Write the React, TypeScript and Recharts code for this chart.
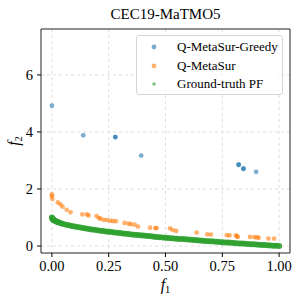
import React from "react";
import { ScatterChart, Scatter, XAxis, YAxis, CartesianGrid, ReferenceArea } from "recharts";

const xTicks = [0, 0.25, 0.5, 0.75, 1];
const yTicks = [0, 2, 4, 6];

const greedyX = [0.0, 0.138, 0.279, 0.279, 0.393, 0.822, 0.822, 0.843, 0.843, 0.899];
const greedyY = [4.92, 3.88, 3.82, 3.82, 3.17, 2.85, 2.85, 2.71, 2.71, 2.6];

const metaX = [0.0, 0.0, 0.002, 0.026, 0.038, 0.047, 0.065, 0.082, 0.134, 0.154, 0.161, 0.197, 0.207, 0.214, 0.228, 0.242, 0.257, 0.269, 0.282, 0.32, 0.338, 0.348, 0.364, 0.379, 0.432, 0.455, 0.461, 0.52, 0.532, 0.547, 0.637, 0.684, 0.7, 0.77, 0.782, 0.81, 0.815, 0.818, 0.872, 0.891, 0.902, 0.91, 0.953, 0.978];
const metaY = [1.81, 1.75, 1.65, 1.53, 1.46, 1.38, 1.27, 1.18, 1.11, 1.11, 1.07, 1.05, 0.98, 0.96, 0.92, 0.91, 0.89, 0.87, 0.87, 0.81, 0.78, 0.77, 0.75, 0.68, 0.64, 0.63, 0.63, 0.62, 0.56, 0.53, 0.47, 0.41, 0.4, 0.38, 0.37, 0.37, 0.34, 0.32, 0.32, 0.31, 0.3, 0.29, 0.26, 0.26];

const pfX = [0, 0.0025, 0.005, 0.0075, 0.01, 0.015, 0.02, 0.025, 0.03, 0.04, 0.05, 0.0625, 0.075, 0.0875, 0.1, 0.1125, 0.125, 0.1375, 0.15, 0.1625, 0.175, 0.1875, 0.2, 0.2125, 0.225, 0.2375, 0.25, 0.2625, 0.275, 0.2875, 0.3, 0.3125, 0.325, 0.3375, 0.35, 0.3625, 0.375, 0.3875, 0.4, 0.4125, 0.425, 0.4375, 0.45, 0.4625, 0.475, 0.4875, 0.5, 0.5125, 0.525, 0.5375, 0.55, 0.5625, 0.575, 0.5875, 0.6, 0.6125, 0.625, 0.6375, 0.65, 0.6625, 0.675, 0.6875, 0.7, 0.7125, 0.725, 0.7375, 0.75, 0.7625, 0.775, 0.7875, 0.8, 0.8125, 0.825, 0.8375, 0.85, 0.8625, 0.875, 0.8875, 0.9, 0.9125, 0.925, 0.9375, 0.95, 0.9625, 0.975, 0.9875, 1.0];
const pfY = [1.0, 0.95, 0.929, 0.913, 0.9, 0.878, 0.859, 0.842, 0.827, 0.8, 0.776, 0.75, 0.726, 0.704, 0.684, 0.665, 0.646, 0.629, 0.613, 0.597, 0.582, 0.567, 0.553, 0.539, 0.526, 0.513, 0.5, 0.488, 0.476, 0.464, 0.452, 0.441, 0.43, 0.419, 0.408, 0.398, 0.388, 0.378, 0.368, 0.358, 0.348, 0.339, 0.329, 0.32, 0.311, 0.302, 0.293, 0.284, 0.275, 0.267, 0.258, 0.25, 0.242, 0.234, 0.225, 0.217, 0.209, 0.202, 0.194, 0.186, 0.178, 0.171, 0.163, 0.156, 0.149, 0.141, 0.134, 0.127, 0.12, 0.113, 0.106, 0.099, 0.092, 0.085, 0.078, 0.071, 0.065, 0.058, 0.051, 0.045, 0.038, 0.032, 0.025, 0.019, 0.013, 0.006, 0.0];

const seriesNames = ["Q-MetaSur-Greedy", "Q-MetaSur", "Ground-truth PF"];
const seriesColors = ["#1f77b4", "#ff7f0e", "#2ca02c"];

const zip = (xs: number[], ys: number[]) => xs.map((x, i) => ({ x, y: ys[i] }));
const greedyData = zip(greedyX, greedyY);
const metaData = zip(metaX, metaY);
const pfData = zip(pfX, pfY);

const X_DOMAIN: [number, number] = [-0.048, 1.048];
const Y_DOMAIN: [number, number] = [-0.245, 7.61];

const FONT = "'Liberation Serif', 'Times New Roman', serif";

const dot = (color: string, r: number, op: number) => (props: any) =>
  <circle cx={props.cx} cy={props.cy} r={r} fill={color} fillOpacity={op} />;

export default function App() {
  return (
    <div style={{ position: "absolute", left: 0, top: 0, width: 300, height: 301, background: "#fff", fontFamily: FONT }}>
      <ScatterChart width={300} height={301} margin={{ top: 29, right: 10, left: 0, bottom: 0 }}>
        <CartesianGrid strokeDasharray="3 3" stroke="#dedede" horizontalValues={yTicks} verticalValues={xTicks} />
        <XAxis
          type="number"
          dataKey="x"
          domain={X_DOMAIN}
          allowDataOverflow
          ticks={xTicks}
          tickFormatter={(v: number) => v.toFixed(2)}
          height={48}
          axisLine={false}
          tickSize={4}
          tickMargin={4}
          tickLine={{ stroke: "#000" }}
          tick={{ fill: "#000", fontSize: 14.5, fontFamily: FONT }}
        />
        <YAxis
          type="number"
          dataKey="y"
          domain={Y_DOMAIN}
          allowDataOverflow
          ticks={yTicks}
          width={41}
          axisLine={false}
          tickSize={4}
          tickMargin={4}
          tickLine={{ stroke: "#000" }}
          tick={{ fill: "#000", fontSize: 14.5, fontFamily: FONT }}
        />
        <Scatter name={seriesNames[2]} data={pfData} isAnimationActive={false} shape={dot(seriesColors[2], 3, 0.9)} />
        <Scatter name={seriesNames[1]} data={metaData} isAnimationActive={false} shape={dot(seriesColors[1], 2.4, 0.6)} />
        <Scatter name={seriesNames[0]} data={greedyData} isAnimationActive={false} shape={dot(seriesColors[0], 2.4, 0.6)} />
        <ReferenceArea x1={X_DOMAIN[0]} x2={X_DOMAIN[1]} y1={Y_DOMAIN[0]} y2={Y_DOMAIN[1]} fill="none" stroke="#222" strokeWidth={1} ifOverflow="visible" />
      </ScatterChart>
      <div style={{ position: "absolute", left: 165.5, top: 14, transform: "translate(-50%, -50%)", fontSize: 15, whiteSpace: "nowrap" }}>
        CEC19-MaTMO5
      </div>
      <div style={{ position: "absolute", left: 165.5, top: 285, transform: "translate(-50%, -50%)", fontSize: 16, whiteSpace: "nowrap" }}>
        <span style={{ fontStyle: "italic" }}>f</span>
        <span style={{ fontSize: 10.5, position: "relative", top: 3 }}>1</span>
      </div>
      <div style={{ position: "absolute", left: 14, top: 141, transform: "translate(-50%, -50%) rotate(-90deg)", fontSize: 16, whiteSpace: "nowrap" }}>
        <span style={{ fontStyle: "italic" }}>f</span>
        <span style={{ fontSize: 10.5, position: "relative", top: 3 }}>2</span>
      </div>
      <div style={{ position: "absolute", left: 136, top: 35, width: 147, height: 60, boxSizing: "border-box", border: "1px solid #d6d6d6", borderRadius: 3, background: "rgba(255,255,255,0.85)" }}>
        {seriesNames.map((n, i) => (
          <div key={n} style={{ position: "absolute", left: 0, top: [11, 30, 48][i] - 9, height: 18, display: "flex", alignItems: "center" }}>
            <svg width={34} height={18} style={{ display: "block" }}>
              <circle cx={17} cy={9} r={i === 2 ? 1.8 : 2.4} fill={seriesColors[i]} fillOpacity={0.6} />
            </svg>
            <span style={{ marginLeft: 6, fontSize: 13, whiteSpace: "nowrap" }}>{n}</span>
          </div>
        ))}
      </div>
    </div>
  );
}
